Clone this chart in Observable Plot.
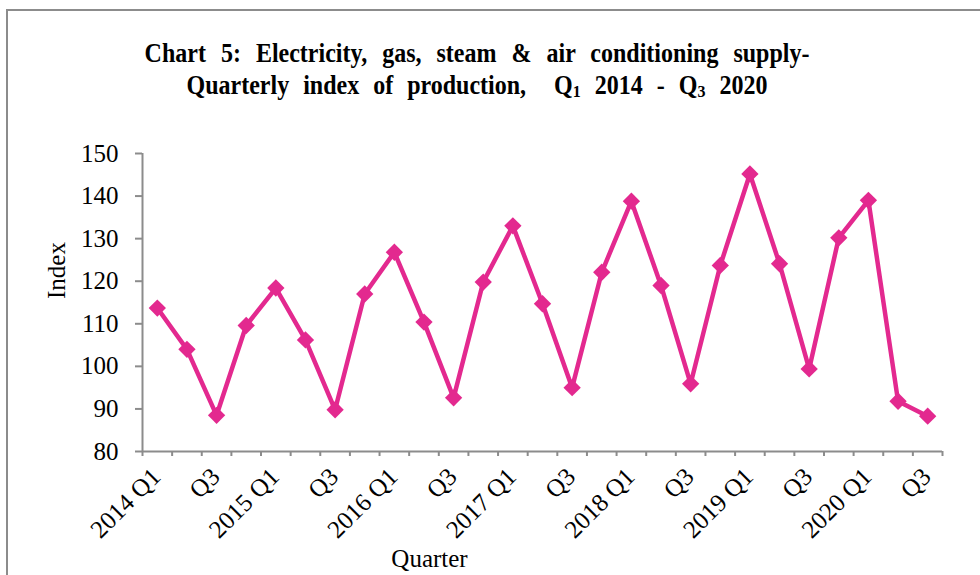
<!DOCTYPE html>
<html>
<head>
<meta charset="utf-8">
<script src="https://cdn.jsdelivr.net/npm/d3@7"></script>
<script src="https://cdn.jsdelivr.net/npm/@observablehq/plot@0.6"></script>
<style>
  html, body { margin: 0; padding: 0; background: #fff; }
  body { width: 980px; height: 575px; overflow: hidden; position: relative; font-family: "Liberation Serif", "Times New Roman", serif; }
  #frame { position: absolute; left: 6px; top: 9px; width: 1000px; height: 600px; border-left: 2px solid #8c8c8c; border-top: 2px solid #8c8c8c; pointer-events: none; }
  .tline { position: absolute; left: 0; width: 954px; text-align: center; font-weight: bold; font-size: 24px; line-height: 24px; word-spacing: 9px; color: #000; transform: scaleY(1.1); white-space: nowrap; }
  .tline sub { font-size: 16px; vertical-align: -3px; line-height: 0; }
  #chart { position: absolute; left: 0; top: 120px; }
</style>
</head>
<body>
<div class="tline" style="top:41px">Chart 5: Electricity, gas, steam &amp; air conditioning supply-</div>
<div class="tline" style="top:73px;word-spacing:8px">Quarterly index of production, &nbsp;Q<sub>1</sub> 2014 - Q<sub>3</sub> 2020</div>
<div id="chart"></div>
<div id="frame"></div>
<script>
const quarters = [
  "2014 Q1","2014 Q2","2014 Q3","2014 Q4",
  "2015 Q1","2015 Q2","2015 Q3","2015 Q4",
  "2016 Q1","2016 Q2","2016 Q3","2016 Q4",
  "2017 Q1","2017 Q2","2017 Q3","2017 Q4",
  "2018 Q1","2018 Q2","2018 Q3","2018 Q4",
  "2019 Q1","2019 Q2","2019 Q3","2019 Q4",
  "2020 Q1","2020 Q2","2020 Q3"
];
const values = [
  113.7, 104.0, 88.5, 109.6,
  118.4, 106.2, 89.8, 117.0,
  126.8, 110.4, 92.6, 119.8,
  133.0, 114.7, 95.0, 122.1,
  138.8, 119.0, 95.9, 123.7,
  145.2, 124.1, 99.4, 130.2,
  139.0, 91.8, 88.3
];
const tickLabels = ["2014 Q1","Q3","2015 Q1","Q3","2016 Q1","Q3","2017 Q1","Q3","2018 Q1","Q3","2019 Q1","Q3","2020 Q1","Q3"];
const yTicks = [80, 90, 100, 110, 120, 130, 140, 150];

const data = quarters.map((q, i) => ({q, i: i + 0.5, v: values[i]}));
const labelPos = tickLabels.map((_, k) => 2 * k + 0.5);
const color = "#e3298f";
const axisColor = "#8c8c8c";
const fs = "25px";

const plot = Plot.plot({
  width: 980,
  height: 455,
  marginLeft: 142,
  marginRight: 38,
  marginTop: 33,
  marginBottom: 124,
  style: { fontFamily: "'Liberation Serif', 'Times New Roman', serif", fontSize: fs, color: "#000", background: "#fff", overflow: "visible" },
  x: { type: "linear", domain: [0, quarters.length] },
  y: { domain: [80, 150] },
  marks: [
    Plot.axisX({ ticks: d3.range(0, quarters.length + 1), tickSize: 5, tickFormat: () => "", stroke: axisColor, strokeWidth: 2, label: null }),
    Plot.axisX({ ticks: labelPos, tickSize: 0, tickPadding: 21, dx: -1, tickRotate: -45, tickFormat: (d) => tickLabels[(d - 0.5) / 2], label: null, fontSize: fs, fill: "#000" }),
    Plot.axisY({ ticks: yTicks, tickSize: 7, tickPadding: 17, stroke: axisColor, strokeWidth: 2, label: null, fontSize: fs, fill: "#000" }),
    Plot.ruleX([0], { stroke: axisColor, strokeWidth: 2 }),
    Plot.ruleY([80], { stroke: axisColor, strokeWidth: 2 }),
    Plot.line(data, { x: "i", y: "v", stroke: color, strokeWidth: 4.5, strokeLinejoin: "miter" }),
    Plot.dot(data, { x: "i", y: "v", symbol: "diamond2", r: 7.8, fill: color, stroke: "none" }),
    Plot.text(["Index"], { frameAnchor: "left", dx: -86, dy: -32, rotate: -90, text: (d) => d, fontSize: fs, fill: "#000", textAnchor: "middle", lineAnchor: "middle" }),
    Plot.text(["Quarter"], { frameAnchor: "bottom", dx: -113, dy: 115, text: (d) => d, fontSize: fs, fill: "#000", textAnchor: "middle", lineAnchor: "bottom" })
  ]
});
document.getElementById("chart").appendChild(plot);
</script>
</body>
</html>
